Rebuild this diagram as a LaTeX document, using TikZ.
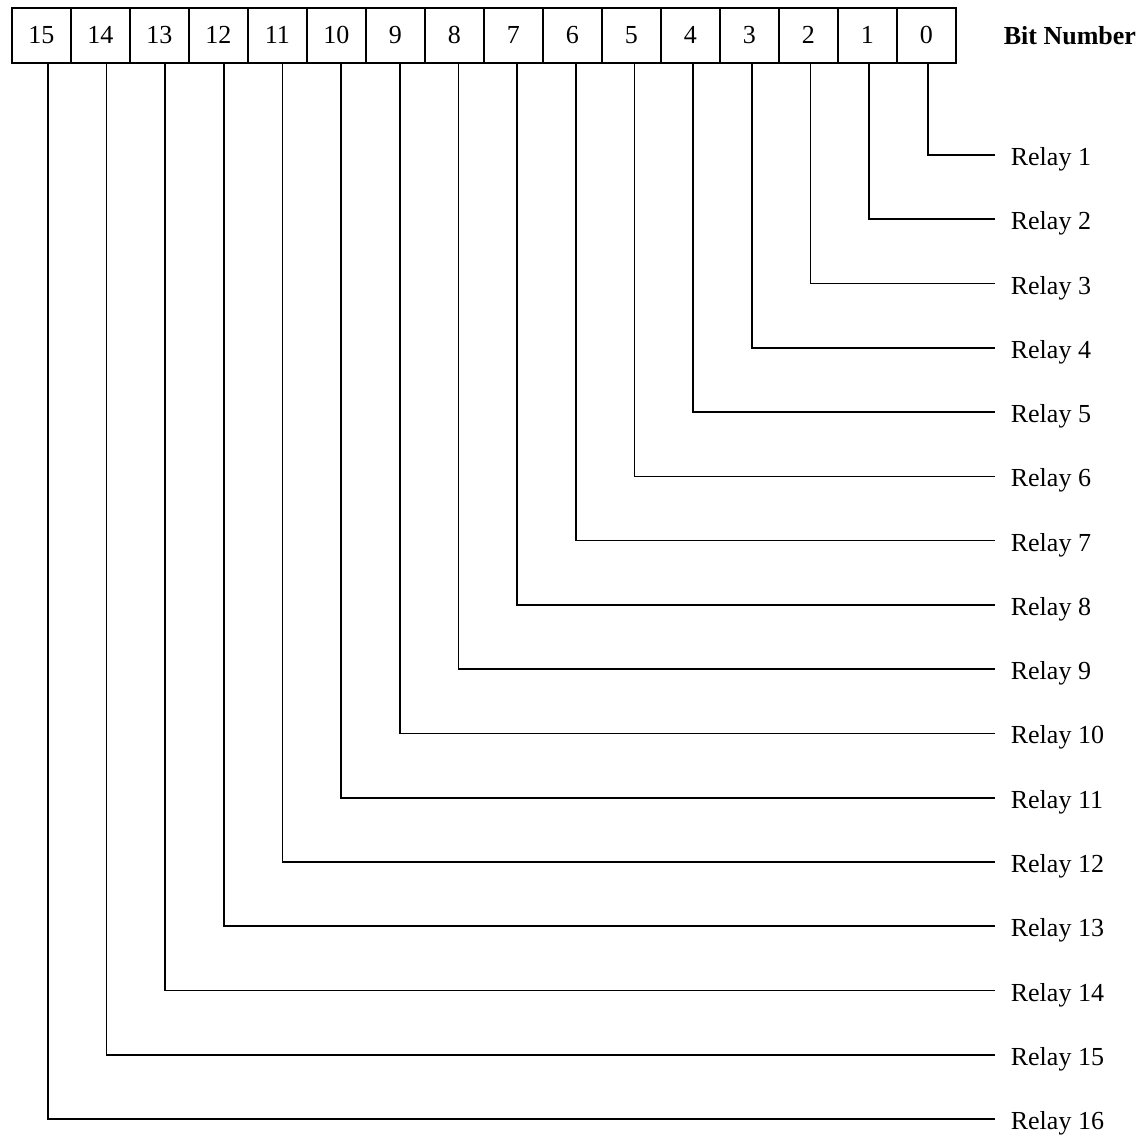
\documentclass[tikz,border=0pt]{standalone}
\usepackage{fontspec}
\setmainfont{Liberation Serif}
\usetikzlibrary{positioning}

\begin{document}
\begin{tikzpicture}[
x=1pt, y=-1pt,
line width=1.7pt,
bitbox/.style={
draw,
minimum width=59pt,
minimum height=55pt,
inner sep=0pt,
anchor=north west,
font=\fontsize{26}{31}\selectfont
},
relaylabel/.style={
anchor=base west,
inner sep=0pt,
font=\fontsize{26}{31}\selectfont
}
]
\useasboundingbox (0,0) rectangle (1146,1137);

% register, bit 15 on the left
\foreach \b in {0,...,15} {
  \pgfmathsetmacro{\bx}{11+59*(15-\b)}
  \node[bitbox] (bit\b) at (\bx,7) {\b};
}

\node[anchor=base west, inner sep=0pt,
font=\bfseries\fontsize{26}{31}\selectfont] (bitnum) at (1003,45) {Bit Number};

% one line per relay
\foreach \b in {0,...,15} {
  \pgfmathtruncatemacro{\n}{\b+1}
  \pgfmathsetmacro{\ly}{155+64.27*\b}
  \pgfmathsetmacro{\off}{(47+58.67*(15-\b))-(40.5+59*(15-\b))}
  \coordinate (end\n) at (995,\ly);
  \node[relaylabel] (relay\n) at (1010,{\ly+10.5}) {Relay \n};
  \draw ([xshift=\off pt]bit\b.south) |- (end\n);
}

\end{tikzpicture}
\end{document}
